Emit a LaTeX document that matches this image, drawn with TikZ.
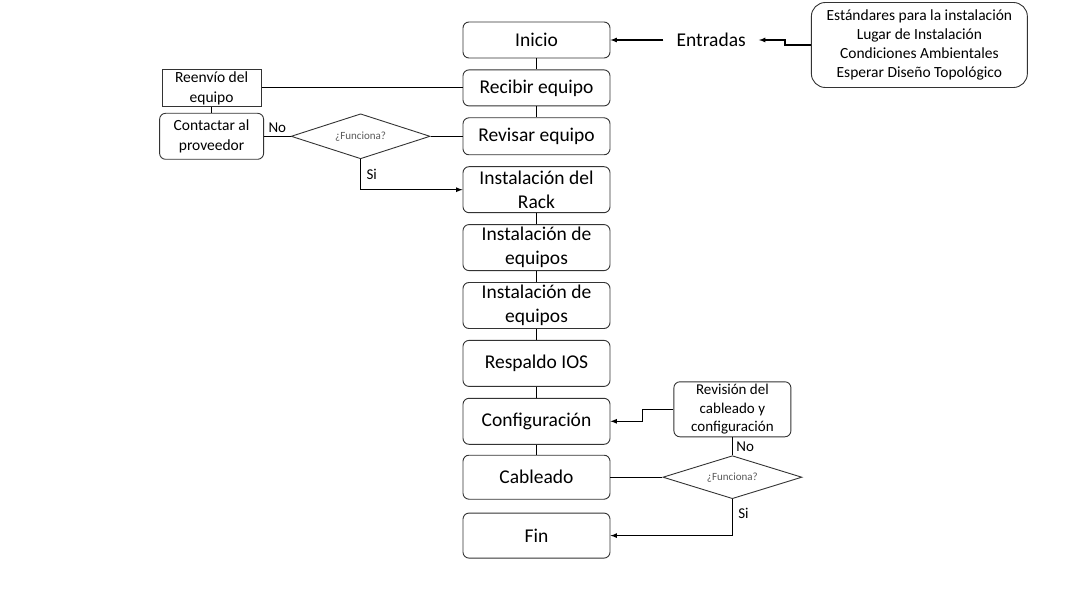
\documentclass[tikz,border=0pt]{standalone}
\usepackage{fontspec}
\setmainfont{Carlito}
\usetikzlibrary{shapes, arrows.meta, positioning}

\begin{document}
\begin{tikzpicture}[x=1pt, y=1pt,
    box/.style={draw=black!80,
        line width=0.9pt,
        rounded corners=6pt,
        align=center,
        minimum width=147pt,
        inner sep=0,
        font=\fontsize{19.5}{24}\selectfont},
    sidebox/.style={draw=black!80,
        line width=0.9pt,
        rounded corners=6pt,
        align=center,
        inner sep=0,
        font=\fontsize{15.5}{19}\selectfont},
    decision/.style={draw=black!80,
        line width=0.9pt,
        diamond,
        aspect=3,
        inner sep=0,
        minimum width=139pt,
        minimum height=45pt,
        text=black!65,
        font=\fontsize{11}{12}\selectfont},
    link/.style={line width=1.2pt},
    lbl/.style={font=\fontsize{15}{16}\selectfont}]

\useasboundingbox (0,0) rectangle (1080,-599);

\node[box,
    minimum height=36pt] (inicio) at (536.5,-40) {Inicio};

\node[box,
    below=11pt of inicio,
    minimum height=36pt] (recibir) {Recibir equipo};

\node[box,
    below=11pt of recibir,
    minimum height=37pt] (revisar) {Revisar equipo};

\node[box,
    below=11pt of revisar,
    minimum height=46pt] (rack) {Instalación del\\Rack};

\node[box,
    below=11pt of rack,
    minimum height=46pt] (equipos_a) {Instalación de\\equipos};

\node[box,
    below=11pt of equipos_a,
    minimum height=46pt] (equipos_b) {Instalación de\\equipos};

\node[box,
    below=11pt of equipos_b,
    minimum height=46pt] (respaldo) {Respaldo IOS};

\node[box,
    below=11pt of respaldo,
    minimum height=46pt] (config) {Configuración};

\node[box,
    below=10pt of config,
    minimum height=44pt] (cableado) {Cableado};

\node[box,
    below=13pt of cableado,
    minimum height=45pt] (fin) {Fin};

\node[right=53pt of inicio,
    inner xsep=13pt,
    font=\fontsize{19.5}{22}\selectfont] (entradas) {Entradas};

\node[sidebox,
    rounded corners=14pt,
    right=52pt of entradas,
    yshift=-5pt,
    minimum width=216pt,
    minimum height=85pt,
    font=\fontsize{15.5}{19}\selectfont] (normas) {Estándares para la instalación\\
                                   Lugar de Instalación\\
                                   Condiciones Ambientales\\
                                   Esperar Diseño Topológico};

\node[sidebox,
    rounded corners=0pt,
    left=201pt of recibir,
    minimum width=99pt,
    minimum height=37pt,
    font=\fontsize{15.5}{20}\selectfont] (reenvio) {Reenvío del\\equipo};

\node[sidebox,
    below=6pt of reenvio,
    minimum width=104pt,
    minimum height=46pt,
    font=\fontsize{15.5}{20}\selectfont] (contactar) {Contactar al\\proveedor};

\node[decision,
    left=32pt of revisar] (funciona_a) {¿Funciona?};

\node[decision,
    right=52pt of cableado,
    minimum height=43pt] (funciona_b) {¿Funciona?};

\node[sidebox,
    above=18pt of funciona_b,
    minimum width=117pt,
    minimum height=55pt,
    font=\fontsize{15}{18.5}\selectfont] (revision) {Revisión del\\cableado y\\configuración};

\draw[link] (inicio) edge (recibir)
    (recibir) edge (revisar)
    (rack) edge (equipos_a)
    (equipos_a) edge (equipos_b)
    (equipos_b) edge (respaldo)
    (respaldo) edge (config)
    (config) edge (cableado)
    (reenvio) edge (recibir)
    (reenvio) edge (contactar)
    (revisar) edge (funciona_a)
    (cableado) edge (funciona_b);
\draw[link] (funciona_a) -- (contactar)
    node[lbl, midway, above]{No};
\draw[link] (revision) -- (funciona_b)
    node[lbl, midway, right]{No};
\draw[link, -latex] (funciona_a.south) |- (rack)
    node[lbl, pos=0.25, right, xshift=2pt]{Si};
\draw[link, -latex] (funciona_b.south) |- (fin)
    node[lbl, pos=0.2, right, xshift=2pt]{Si};
\draw[link, -latex] (entradas) -- (inicio);
\draw[link, -latex] (normas.west) -- ++(-26,0) |- (entradas);
\draw[link, -latex] (revision.west) -- ++(-31,0) |- (config);

\end{tikzpicture}
\end{document}
